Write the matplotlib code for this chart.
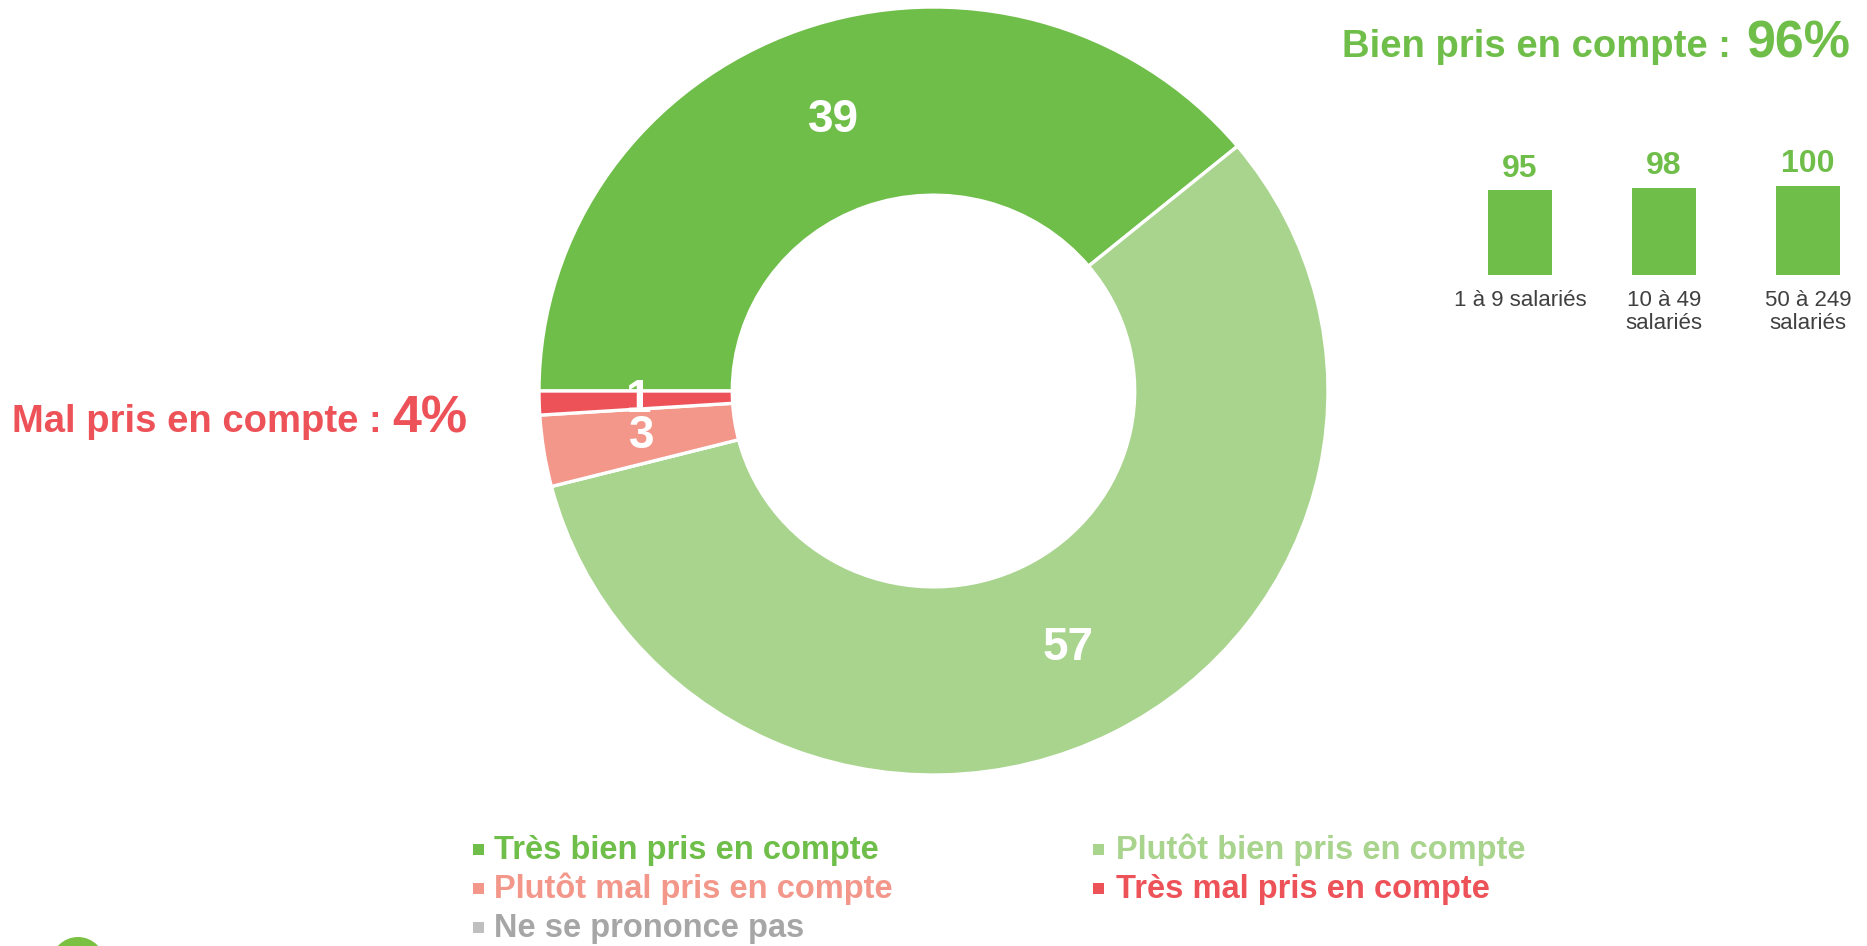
import matplotlib
matplotlib.use("Agg")
import matplotlib.pyplot as plt
from matplotlib.patches import Rectangle, Circle, Wedge
import numpy as np

# ---------------- data ----------------
categories = ["Très bien pris en compte", "Plutôt bien pris en compte",
              "Plutôt mal pris en compte", "Très mal pris en compte",
              "Ne se prononce pas"]
values = [39, 57, 3, 1, 0]
colors = ["#6FBE4A", "#A9D48E", "#F3978B", "#EE5259", "#BFBFBF"]
text_colors = ["#6FBE4A", "#A9D48E", "#F3978B", "#EE5259", "#A6A6A6"]

size_groups = ["1 à 9 salariés", "10 à 49\nsalariés", "50 à 249\nsalariés"]
size_values = [95, 98, 100]

bien_label = "Bien pris en compte :"
bien_total = "96%"
mal_label = "Mal pris en compte :"
mal_total = "4%"

# ---------------- figure ----------------
W, H = 1867, 946
plt.rcParams["font.family"] = ["Liberation Sans", "DejaVu Sans"]
fig = plt.figure(figsize=(W / 100, H / 100), dpi=100)
fig.patch.set_facecolor("white")


def fx(x):
    return x / W


def fy(y):
    return 1 - y / H


# ---------------- donut ----------------
ax = fig.add_axes([fx(539), fy(775), 789 / W, 768 / H])
vals = [v for v in values if v > 0]
cols = [c for v, c in zip(values, colors) if v > 0]
wedges, _ = ax.pie(vals, colors=cols, startangle=180, counterclock=False,
                   radius=1.0,
                   wedgeprops=dict(width=0.49, edgecolor="white", linewidth=2.4))
ax.set_aspect("auto")
ax.set_xlim(-1, 1)
ax.set_ylim(-1, 1)
ax.axis("off")
for w, v in zip(wedges, vals):
    ang = np.deg2rad((w.theta1 + w.theta2) / 2)
    r = 0.75
    ax.text(r * np.cos(ang), r * np.sin(ang), str(v), ha="center", va="center",
            fontsize=33, fontweight="bold", color="white")

# ---------------- small bar chart ----------------
spacing = 144
centers_left = 1520 - 0.5 * spacing
ax2 = fig.add_axes([fx(centers_left), fy(275), 3 * spacing / W, 89 / H])
x = np.arange(len(size_values))
ax2.bar(x, size_values, width=64 / spacing, color="#6FBE4A")
ax2.set_xlim(-0.5, 2.5)
ax2.set_ylim(0, 100)
for s in ax2.spines.values():
    s.set_visible(False)
ax2.set_yticks([])
ax2.set_xticks(x)
ax2.set_xticklabels(size_groups, fontsize=16, color="#404040", linespacing=1.1)
ax2.tick_params(axis="x", length=0, pad=11)
for xi, v in zip(x, size_values):
    ax2.annotate(str(v), (xi, v), xytext=(0, 10), textcoords="offset points",
                 ha="center", va="baseline", fontsize=23, fontweight="bold",
                 color="#6FBE4A")

# ---------------- headline texts ----------------
fig.text(fx(1731), fy(57), bien_label, ha="right", va="baseline",
         fontsize=27.5, fontweight="bold", color="#6FBE4A")
fig.text(fx(1850), fy(57), bien_total, ha="right", va="baseline",
         fontsize=37.5, fontweight="bold", color="#6FBE4A")

fig.text(fx(12), fy(432), mal_label, ha="left", va="baseline",
         fontsize=27.5, fontweight="bold", color="#EE5259")
fig.text(fx(467), fy(432), mal_total, ha="right", va="baseline",
         fontsize=37.5, fontweight="bold", color="#EE5259")

# ---------------- legend ----------------
col_square_x = [473, 1093]
col_text_x = [494, 1116]
row_base = [859, 898, 937]
sq = 11
for i, (lab, c, tc) in enumerate(zip(categories, colors, text_colors)):
    row, col = i // 2, i % 2
    base = row_base[row]
    fig.add_artist(Rectangle((fx(col_square_x[col]), fy(base - 4)), sq / W, sq / H,
                             transform=fig.transFigure, facecolor=c,
                             edgecolor="none"))
    fig.text(fx(col_text_x[col]), fy(base), lab, ha="left", va="baseline",
             fontsize=23.5, fontweight="bold", color=tc)

# ---------------- logo (cut at bottom) ----------------
axl = fig.add_axes([0, 0, 250 / W, 46 / H])
axl.set_xlim(0, 250)
axl.set_ylim(46, 0)
axl.axis("off")
axl.add_patch(Circle((78, 64), 27, facecolor="#7AC143", edgecolor="none"))
axl.add_patch(Wedge((78, 64), 27, 110, 160, width=10, facecolor="#1B8FC9",
                    edgecolor="none"))
axl.add_patch(Circle((78, 64), 14, facecolor="white", edgecolor="none"))

fig.savefig("out.png", dpi=100, facecolor="white")
